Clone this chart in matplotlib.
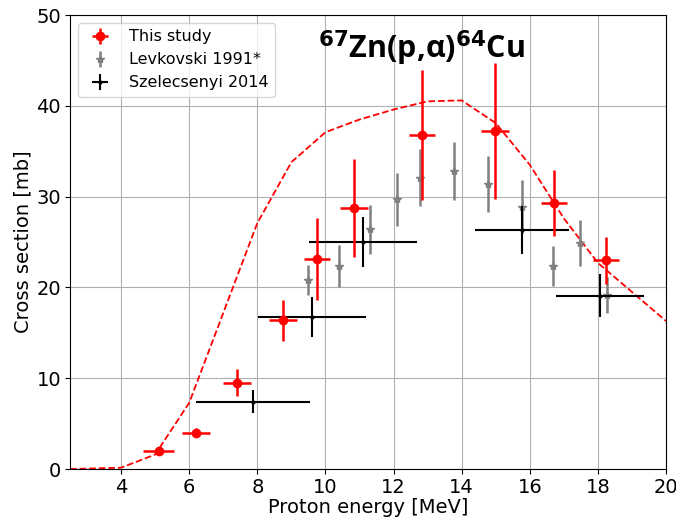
import matplotlib
matplotlib.use("Agg")
import matplotlib.pyplot as plt

# This study
ts_x = [5.1, 6.2, 7.4, 8.75, 9.75, 10.84, 12.83, 14.98, 16.7, 18.24]
ts_y = [2.0, 4.0, 9.5, 16.4, 23.1, 28.7, 36.8, 37.2, 29.3, 23.0]
ts_xerr = [0.45, 0.4, 0.4, 0.4, 0.38, 0.4, 0.38, 0.4, 0.38, 0.38]
ts_yerr = [0.3, 0.5, 1.5, 2.25, 4.5, 5.4, 7.2, 7.5, 3.6, 2.6]

# Levkovski 1991*
lv_x = [9.49, 10.4, 11.31, 12.1, 12.78, 13.77, 14.77, 15.77, 16.68, 17.47, 18.27]
lv_y = [20.8, 22.4, 26.4, 29.7, 32.1, 32.8, 31.4, 28.9, 22.4, 24.9, 19.2]
lv_yerr = [1.65, 2.3, 2.7, 2.9, 3.1, 3.2, 3.1, 2.9, 2.2, 2.5, 2.0]

# Szelecsenyi 2014
sz_x = [7.87, 9.6, 11.1, 15.77, 18.06]
sz_y = [7.4, 16.7, 25.0, 26.3, 19.1]
sz_xerr = [1.67, 1.58, 1.58, 1.38, 1.28]
sz_yerr = [1.27, 2.2, 2.75, 2.65, 2.4]

# Model curve
md_x = [2.5, 4, 5, 6, 7, 8, 9, 10, 11, 12, 13, 14, 15, 16, 17, 18, 19, 20]
md_y = [0.0, 0.15, 1.6, 7.3, 17.2, 27.1, 33.8, 37.1, 38.5, 39.6, 40.5, 40.6, 38.1, 33.5, 27.6, 22.7, 19.5, 16.3]

fig = plt.figure(figsize=(6.76, 5.2), dpi=100)
ax = fig.add_axes([0.1036, 0.098, 0.8817, 0.873])

ax.plot(md_x, md_y, color='red', linestyle='--', linewidth=1.3, zorder=2)
ax.errorbar(ts_x, ts_y, xerr=ts_xerr, yerr=ts_yerr, fmt='o', color='red',
            markersize=6, elinewidth=1.8, capsize=0, label='This study', zorder=5)
ax.errorbar(lv_x, lv_y, yerr=lv_yerr, fmt='*', color='gray',
            markersize=6, elinewidth=1.8, capsize=0, label='Levkovski 1991*', zorder=3)
ax.errorbar(sz_x, sz_y, xerr=sz_xerr, yerr=sz_yerr, fmt='.', color='black',
            markersize=4, elinewidth=1.5, capsize=0, label='Szelecsenyi 2014', zorder=4)

ax.set_xlim(2.5, 20)
ax.set_ylim(0, 50)
ax.set_xticks([4, 6, 8, 10, 12, 14, 16, 18, 20])
ax.set_yticks([0, 10, 20, 30, 40, 50])
ax.tick_params(labelsize=14, pad=3)
ax.grid(True, color='#b0b0b0', linewidth=0.8)
ax.set_axisbelow(True)
ax.set_xlabel('Proton energy [MeV]', fontsize=14, labelpad=1)
ax.set_ylabel('Cross section [mb]', fontsize=14, labelpad=3)

ax.legend(loc='upper left', fontsize=11.5)

ax.text(9.78, 46.4, r'$^{\mathbf{67}}$Zn(p,α)$^{\mathbf{64}}$Cu', fontsize=22,
        fontweight='bold', family='Open Sans', va='center', ha='left')

fig.savefig('out.png', dpi=100)
